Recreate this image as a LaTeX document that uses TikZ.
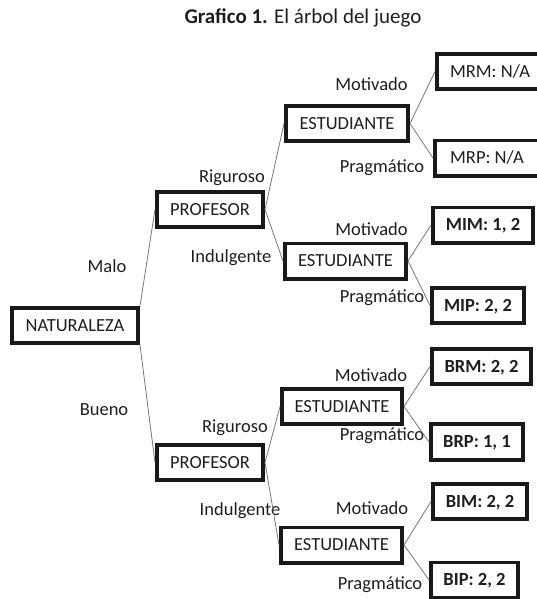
\documentclass[tikz,border=0pt]{standalone}
\usepackage{fontspec}
\setmainfont{Carlito}
\definecolor{txt}{HTML}{1E1E1E}
\definecolor{edge}{HTML}{777777}
\tikzset{
  box/.style={draw=black!90, line width=3.8pt, inner sep=0pt, minimum height=35.2pt,
    text height=11.8pt, text depth=0pt, font=\fontsize{18.5}{20}\selectfont, text=txt},
  boldbox/.style={box, font=\fontsize{18.5}{20}\selectfont\bfseries},
  lbl/.style={inner sep=0pt, text height=11.8pt, text depth=0pt,
    font=\fontsize{18.5}{20}\selectfont, text=txt},
  conn/.style={draw=edge, line width=0.8pt}
}
\begin{document}
\begin{tikzpicture}[x=1pt,y=-1pt]
\useasboundingbox (0,0) rectangle (537,599);
\node[lbl, font=\fontsize{21}{24}\selectfont, text height=13.5pt] (title) at (303,17) {\textbf{Grafico 1.} El árbol del juego};

\node[box, minimum width=126.2pt] (nat) at (75,325.5) {NATURALEZA};
\node[box, minimum width=106.2pt] (prof1) at (210,209.5) {PROFESOR};
\node[box, minimum width=106.2pt] (prof2) at (210,462.5) {PROFESOR};
\node[box, minimum width=122.2pt] (est1) at (347,123.5) {ESTUDIANTE};
\node[box, minimum width=121.2pt] (est2) at (345.5,261) {ESTUDIANTE};
\node[box, minimum width=120.2pt] (est3) at (342,406.5) {ESTUDIANTE};
\node[box, minimum width=121.2pt] (est4) at (341.5,545) {ESTUDIANTE};

\node[box, minimum width=106.2pt] (mrm) at (490,71.5) {MRM: N/A};
\node[box, minimum width=104.2pt] (mrp) at (487,158) {MRP: N/A};
\node[boldbox, minimum width=100.2pt] (mim) at (483,225) {MIM: 1, 2};
\node[boldbox, minimum width=92.2pt] (mip) at (478,305.5) {MIP: 2, 2};
\node[boldbox, minimum width=99.2pt] (brm) at (481.5,366.5) {BRM: 2, 2};
\node[boldbox, minimum width=92.2pt, minimum height=36.2pt] (brp) at (477,442) {BRP: 1, 1};
\node[boldbox, minimum width=94.2pt] (bim) at (480,501.5) {BIM: 2, 2};
\node[boldbox, minimum width=87.2pt] (bip) at (474.5,580) {BIP: 2, 2};

\node[lbl] (malo) at (107,267) {Malo};
\node[lbl] (bueno) at (104,410) {Bueno};
\node[lbl] (rig1) at (232,177) {Riguroso};
\node[lbl] (ind1) at (231,257) {Indulgente};
\node[lbl] (rig2) at (235,427) {Riguroso};
\node[lbl] (ind2) at (240,510) {Indulgente};
\node[lbl] (mot1) at (371.5,85) {Motivado};
\node[lbl] (pra1) at (382,167) {Pragmático};
\node[lbl] (mot2) at (371.5,230) {Motivado};
\node[lbl] (pra2) at (382,297) {Pragmático};
\node[lbl] (mot3) at (371,376) {Motivado};
\node[lbl] (pra3) at (382,435) {Pragmático};
\node[lbl] (mot4) at (372,509) {Motivado};
\node[lbl] (pra4) at (380,584) {Pragmático};

\draw[conn] (nat.north east) -- (prof1.west);
\draw[conn] (nat.south east) -- (prof2.west);
\draw[conn] (prof1.east) -- (est1.west);
\draw[conn] (prof1.east) -- (est2.west);
\draw[conn] (prof2.east) -- (est3.west);
\draw[conn] (prof2.east) -- (est4.west);
\draw[conn] (est1.east) -- (mrm.west);
\draw[conn] (est1.east) -- (mrp.west);
\draw[conn] (est2.east) -- (mim.west);
\draw[conn] (est2.east) -- (mip.west);
\draw[conn] (est3.east) -- (brm.west);
\draw[conn] (est3.east) -- (brp.west);
\draw[conn] (est4.east) -- (bim.west);
\draw[conn] (est4.east) -- (bip.west);
\end{tikzpicture}
\end{document}
